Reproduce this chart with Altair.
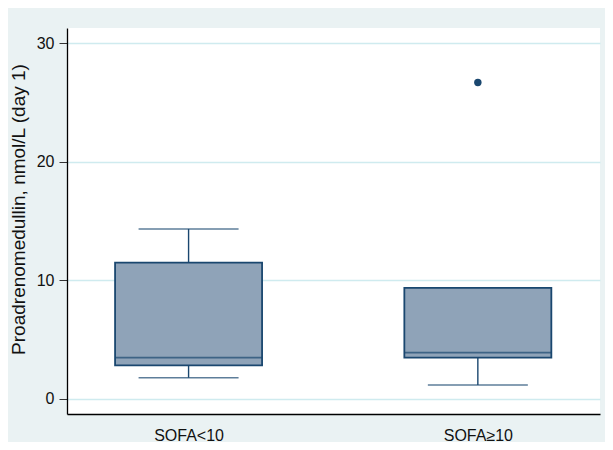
import altair as alt
import pandas as pd

# ---- data ----
groups = ["SOFA<10", "SOFA≥10"]
lower_whisker = [1.77, 1.16]
q1 = [2.82, 3.46]
median = [3.46, 3.89]
q3 = [11.49, 9.35]
upper_whisker = [14.33, 9.35]

outlier_group = ["SOFA≥10"]
outlier_value = [26.69]

y_ticks = [0, 10, 20, 30]

# ---- tables ----
box_df = pd.DataFrame({
    "group": groups,
    "pos": [i + 1 for i in range(len(groups))],
    "lw": lower_whisker,
    "q1": q1,
    "med": median,
    "q3": q3,
    "uw": upper_whisker,
})
out_df = pd.DataFrame({
    "group": outlier_group,
    "pos": [groups.index(g) + 1 for g in outlier_group],
    "value": outlier_value,
})

NAVY = "#1A476F"
FILL = "#8FA3B8"
FONT = "Liberation Sans"

label_expr = " : ".join(
    [f"datum.value == {i + 1} ? '{g}'" for i, g in enumerate(groups)]
) + " : ''"

x_scale = alt.Scale(domain=[0.597, 2.405], nice=False, zero=False)
y_scale = alt.Scale(domain=[-1.29, 31.29], nice=False, zero=False)

x_enc = alt.X(
    "pos:Q", scale=x_scale,
    axis=alt.Axis(values=[1, 2], labelExpr=label_expr, title=None, ticks=False,
                  grid=False, domainColor="black", domainWidth=1.3,
                  labelFontSize=16, labelFont=FONT, labelColor="#111111",
                  labelPadding=13),
)
y_axis = alt.Axis(values=y_ticks, title="Proadrenomedullin, nmol/L (day 1)",
                  grid=True, gridColor="#CFEBEF", gridWidth=1.4,
                  domainColor="black", domainWidth=1.3,
                  tickColor="#333333", tickSize=8, tickWidth=1,
                  labelFontSize=16, labelFont=FONT, labelColor="#111111",
                  labelPadding=5,
                  titleFontSize=19, titleFont=FONT, titleFontWeight="normal",
                  titleColor="#111111", titlePadding=8, titleY=181)

base = alt.Chart(box_df)

lower_wh = base.mark_rule(color=NAVY, strokeWidth=1.4).encode(
    x=x_enc, y=alt.Y("lw:Q", scale=y_scale, axis=y_axis), y2="q1:Q")
upper_wh = base.mark_rule(color=NAVY, strokeWidth=1.4).encode(
    x="pos:Q", y="q3:Q", y2="uw:Q")
lower_cap = base.mark_tick(color=NAVY, orient="horizontal", size=100,
                           thickness=1.6).encode(x="pos:Q", y="lw:Q")
upper_cap = base.mark_tick(color=NAVY, orient="horizontal", size=100,
                           thickness=1.6).encode(x="pos:Q", y="uw:Q")
box = base.mark_bar(size=147, fill=FILL, stroke=NAVY, strokeWidth=1.8).encode(
    x="pos:Q", y="q1:Q", y2="q3:Q")
med = base.mark_tick(color=NAVY, orient="horizontal", size=147,
                     thickness=1.8).encode(x="pos:Q", y="med:Q")
outl = alt.Chart(out_df).mark_circle(color=NAVY, opacity=1, size=55).encode(
    x="pos:Q", y="value:Q")

chart = alt.layer(lower_wh, upper_wh, lower_cap, upper_cap, box, med, outl).properties(
    width=533, height=386,
    autosize=alt.AutoSizeParams(type="none"),
    padding={"left": 59, "top": 20, "right": 5, "bottom": 28},
    background="#EAF2F3",
).configure_view(fill="white", stroke=None)

chart.save("out.html", embed_options={"renderer": "svg", "actions": False})
